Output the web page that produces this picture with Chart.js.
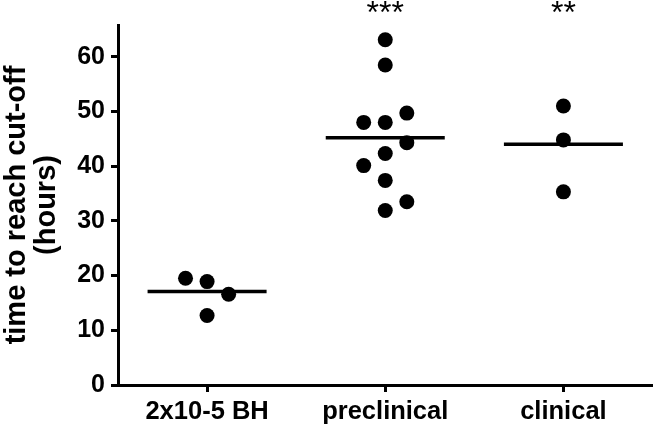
<!DOCTYPE html>
<html>
<head>
<meta charset="utf-8">
<script src="https://cdn.jsdelivr.net/npm/chart.js@4/dist/chart.umd.min.js"></script>
<style>
  body { margin: 0; background: #fff; }
</style>
</head>
<body>
<canvas id="chart" width="660" height="426"></canvas>
<script>
const groups = ['2x10-5 BH', 'preclinical', 'clinical'];
const significance = ['', '***', '**'];

// hours
const bhValues = [19.5, 18.9, 16.6, 12.7];
const bhJitter = [-1, 0, 1, 0];
const preclinicalValues = [63.1, 58.5, 49.7, 48.0, 48.0, 44.3, 42.3, 40.1, 37.4, 33.5, 31.9];
const preclinicalJitter = [0, 0, 1, -1, 0, 1, 0, -1, 0, 1, 0];
const clinicalValues = [51.0, 44.8, 35.3];
const clinicalJitter = [0, 0, 0];
const groupMeans = [17.1, 45.2, 44.0];

const yTicks = [0, 10, 20, 30, 40, 50, 60];

const JITTER = 0.121;   // spread of the dots, category units
const HALF_LINE = 0.334; // half width of the mean bar

const allValues = [bhValues, preclinicalValues, clinicalValues];
const allJitter = [bhJitter, preclinicalJitter, clinicalJitter];

const FONT = "'Liberation Sans', Arial, sans-serif";

const dotSets = allValues.map((vals, g) => ({
    data: vals.map((v, i) => ({ x: g + allJitter[g][i] * JITTER, y: v })),
    backgroundColor: '#000',
    borderColor: '#000',
    pointRadius: 7.5,
    pointBorderWidth: 0,
    showLine: false,
}));

const meanSets = groupMeans.map((m, g) => ({
    data: [{ x: g - HALF_LINE, y: m }, { x: g + HALF_LINE, y: m }],
    borderColor: '#000',
    borderWidth: 3.5,
    pointRadius: 0,
    showLine: true,
}));

// stars above the groups
const starsPlugin = {
    id: 'stars',
    afterDraw(chart) {
        const ctx = chart.ctx;
        const x = chart.scales.x;
        ctx.save();
        ctx.fillStyle = '#000';
        ctx.font = '32px ' + FONT;
        ctx.textAlign = 'center';
        ctx.textBaseline = 'alphabetic';
        significance.forEach((s, g) => {
            if (!s) return;
            ctx.fillText(s, x.getPixelForValue(g), chart.chartArea.top - 2);
        });
        ctx.restore();
    }
};

new Chart(document.getElementById('chart'), {
    type: 'scatter',
    data: { datasets: [...meanSets, ...dotSets] },
    plugins: [starsPlugin],
    options: {
        responsive: false,
        animation: false,
        devicePixelRatio: 1,
        layout: { padding: { top: 25, right: 2, left: 0, bottom: 0 } },
        plugins: { legend: { display: false }, tooltip: { enabled: false } },
        scales: {
            x: {
                type: 'linear',
                min: -0.5,
                max: 2.5,
                afterBuildTicks: (scale) => { scale.ticks = groups.map((_, i) => ({ value: i })); },
                afterFit: (scale) => { scale.height = 41; },
                border: { display: true, color: '#000', width: 3 },
                grid: { drawOnChartArea: false, drawTicks: true, tickLength: 7, tickWidth: 3, tickColor: '#000' },
                ticks: {
                    color: '#000',
                    padding: 5,
                    maxRotation: 0,
                    font: { family: FONT, size: 25.5, weight: 'bold' },
                    callback: (v) => groups[v] ?? '',
                },
            },
            y: {
                min: 0,
                max: 65.8,
                afterBuildTicks: (scale) => { scale.ticks = yTicks.map(v => ({ value: v })); },
                afterFit: (scale) => { scale.width = 118; },
                border: { display: true, color: '#000', width: 3 },
                grid: { drawOnChartArea: false, drawTicks: true, tickLength: 7, tickWidth: 3, tickColor: '#000' },
                ticks: {
                    color: '#000',
                    padding: 6,
                    font: { family: FONT, size: 25, weight: 'bold' },
                },
                title: {
                    display: true,
                    text: ['time to reach cut-off', '(hours)'],
                    color: '#000',
                    padding: { top: 2, bottom: 0 },
                    font: { family: FONT, size: 29, weight: 'bold', lineHeight: 1.04 },
                },
            },
        },
    },
});
</script>
</body>
</html>
